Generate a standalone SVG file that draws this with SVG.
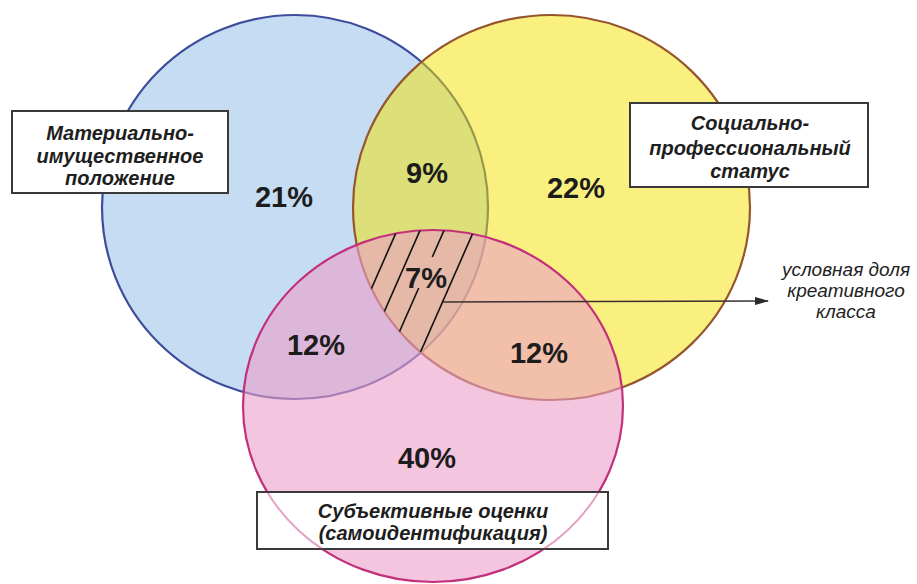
<svg xmlns="http://www.w3.org/2000/svg" width="917" height="584" viewBox="0 0 917 584">
<style>
.pct{font-family:"Liberation Sans",Arial,sans-serif;font-weight:bold;font-size:29px;fill:#1c1c1c;text-anchor:middle}
.lbl{font-family:"Liberation Sans",Arial,sans-serif;font-weight:bold;font-style:italic;font-size:20px;fill:#1e1e1e;text-anchor:middle}
.note{font-family:"Liberation Sans",Arial,sans-serif;font-style:italic;font-size:19px;fill:#222;text-anchor:middle}
.box{fill:#fff;stroke:#3a3a3a;stroke-width:2}
.hatch{stroke:#111;stroke-width:1.6;fill:none}
</style>
<defs>
<clipPath id="cb"><ellipse cx="295" cy="207" rx="193" ry="192"/></clipPath>
<clipPath id="cy"><ellipse cx="551.5" cy="207.5" rx="198.5" ry="192.5"/></clipPath>
<clipPath id="cp"><ellipse cx="433" cy="406" rx="190" ry="176"/></clipPath>
<clipPath id="cbox3"><rect x="257" y="492" width="351" height="57"/></clipPath>
<marker id="ah" markerWidth="14" markerHeight="8" refX="13" refY="4" orient="auto" markerUnits="userSpaceOnUse">
<path d="M0,0 L14,4 L0,8 Z" fill="#2a2a2a"/>
</marker>
</defs>
<rect width="917" height="584" fill="#fff"/>
<g id="material">
<ellipse cx="295" cy="207" rx="193" ry="192" fill="#c5dcf3" stroke="#3d4d9c" stroke-width="2.2"/>
</g>
<g id="social">
<ellipse cx="551.5" cy="207.5" rx="198.5" ry="192.5" fill="#f5e100" fill-opacity="0.5" stroke="#95552e" stroke-width="2.2"/>
</g>
<g id="subjective">
<ellipse cx="433" cy="406" rx="190" ry="176" fill="#ed9fc8" fill-opacity="0.6" stroke="#c2307c" stroke-width="2.2"/>
</g>
<g id="creative-hatch" clip-path="url(#cp)">
<g clip-path="url(#cy)">
<g clip-path="url(#cb)">
<line class="hatch" x1="410.4" y1="200" x2="335.6" y2="370"/>
<line class="hatch" x1="433.4" y1="200" x2="358.6" y2="370"/>
<line class="hatch" x1="457.4" y1="200" x2="432.3" y2="257"/>
<line class="hatch" x1="418.7" y1="288" x2="382.6" y2="370"/>
<line class="hatch" x1="487.4" y1="200" x2="412.6" y2="370"/>
</g>
</g>
</g>
<g id="values">
<text class="pct" x="284" y="207">21%</text>
<text class="pct" x="427" y="183">9%</text>
<text class="pct" x="576" y="198">22%</text>
<text class="pct" x="426" y="288">7%</text>
<text class="pct" x="316" y="355">12%</text>
<text class="pct" x="539" y="363">12%</text>
<text class="pct" x="427" y="468">40%</text>
</g>
<g id="connectors">
<line x1="443" y1="302" x2="768" y2="301" stroke="#3a3030" stroke-width="1.6" marker-end="url(#ah)"/>
</g>
<g id="label-material">
<rect class="box" x="12" y="111" width="216" height="82"/>
<text class="lbl" x="120" y="140">Материально-</text>
<text class="lbl" x="120" y="163">имущественное</text>
<text class="lbl" x="120" y="185">положение</text>
</g>
<g id="label-social">
<rect class="box" x="630" y="103" width="238" height="84"/>
<text class="lbl" x="750" y="130">Социально-</text>
<text class="lbl" x="750" y="155">профессиональный</text>
<text class="lbl" x="750" y="178">статус</text>
</g>
<g id="label-subjective">
<rect class="box" x="257" y="492" width="351" height="57"/>
<ellipse cx="433" cy="406" rx="190" ry="176" fill="none" stroke="#c2307c" stroke-width="2" stroke-opacity="0.45" clip-path="url(#cbox3)"/>
<text class="lbl" x="433" y="518">Субъективные оценки</text>
<text class="lbl" x="433" y="540">(самоидентификация)</text>
</g>
<g id="label-creative">
<text class="note" x="846" y="276">условная доля</text>
<text class="note" x="846" y="297">креативного</text>
<text class="note" x="846" y="318">класса</text>
</g>
</svg>
